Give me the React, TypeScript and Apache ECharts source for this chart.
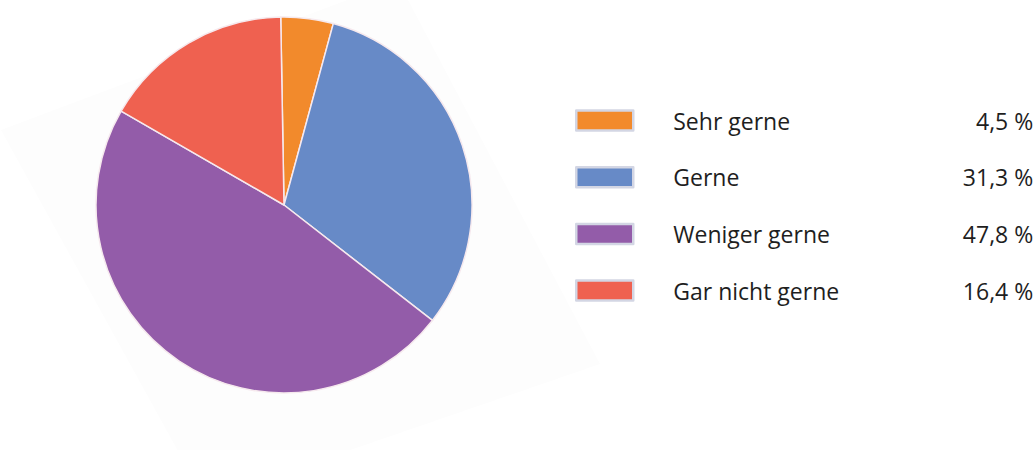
import React, { useEffect, useRef } from "react";
import * as echarts from "echarts";

const categories = ["Sehr gerne", "Gerne", "Weniger gerne", "Gar nicht gerne"];
const values = [4.5, 31.3, 47.8, 16.4];
const valueLabels = ["4,5 %", "31,3 %", "47,8 %", "16,4 %"];
const colors = ["#f28a2c", "#678ac7", "#935ca9", "#ef6150"];

export default function App() {
  const ref = useRef<HTMLDivElement>(null);
  useEffect(() => {
    if (!ref.current) return;
    const chart = echarts.init(ref.current, null, { renderer: "svg" });
    chart.setOption({
      animation: false,
      backgroundColor: "#ffffff",
      graphic: [
        {
          type: "polygon",
          z: 0,
          silent: true,
          shape: {
            points: [
              [1, 130],
              [398, -19],
              [600, 364],
              [205, 500],
            ],
          },
          style: { fill: "#fdfdfd" },
        },
      ],
      legend: {
        orient: "vertical",
        left: 575,
        top: 109,
        padding: 0,
        itemWidth: 57,
        itemHeight: 20,
        itemGap: 33.7,
        icon: "rect",
        selectedMode: false,
        data: categories,
        itemStyle: { borderColor: "#d3d6e4", borderWidth: 2.5 },
        formatter: (name: string) => {
          const i = categories.indexOf(name);
          return `{n|${name}}{v|${valueLabels[i]}}`;
        },
        textStyle: {
          rich: {
            n: {
              fontFamily: "Open Sans",
              fontSize: 23,
              color: "#1e1e1e",
              width: 263,
              lineHeight: 22,
              padding: [0, 0, 0, 35],
            },
            v: {
              fontFamily: "Open Sans",
              fontSize: 23,
              color: "#1e1e1e",
              width: 97,
              align: "right",
              lineHeight: 22,
            },
          },
        },
      },
      series: [
        {
          type: "pie",
          center: [284, 205],
          radius: 188,
          startAngle: 91,
          clockwise: true,
          label: { show: false },
          labelLine: { show: false },
          emphasis: { disabled: true },
          itemStyle: { borderColor: "#f6e9ee", borderWidth: 1.5 },
          data: categories.map((c, i) => ({
            name: c,
            value: values[i],
            itemStyle: { color: colors[i] },
          })),
        },
      ],
    });
    return () => chart.dispose();
  }, []);
  return (
    <div
      ref={ref}
      style={{ position: "fixed", left: 0, top: 0, width: 1036, height: 450 }}
    />
  );
}
